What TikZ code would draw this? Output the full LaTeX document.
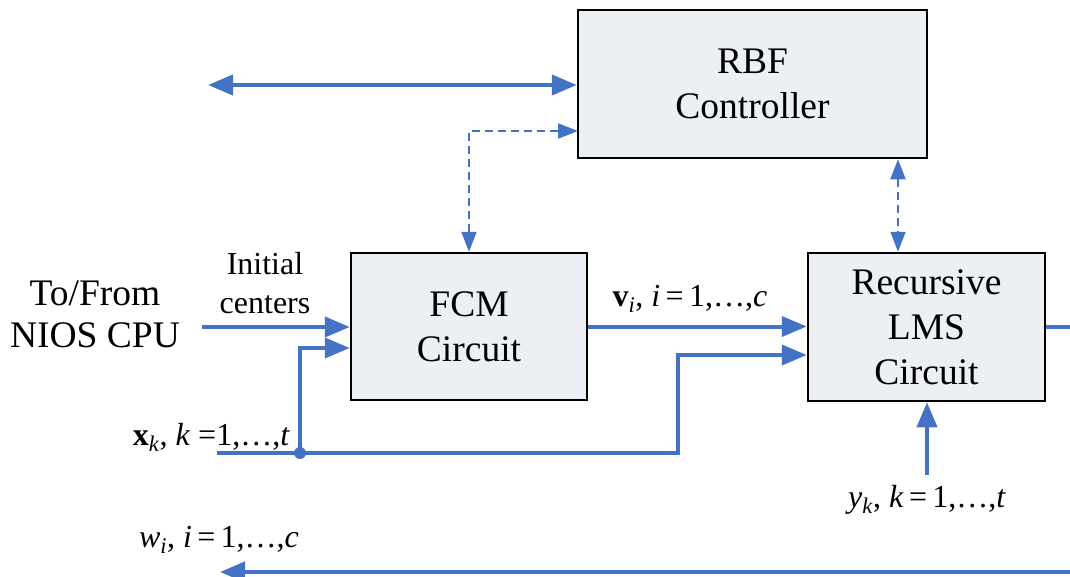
\documentclass[tikz,border=0pt]{standalone}
\usepackage{fontspec}
\setmainfont{Liberation Serif}
\usetikzlibrary{arrows.meta,calc}
\definecolor{lblue}{HTML}{4472C4}
\definecolor{boxfill}{HTML}{ECEFF4}
\begin{document}
\begin{tikzpicture}[x=1pt,y=-1pt,
  blk/.style={draw=black,line width=2.5pt,fill=boxfill,align=center,inner sep=0pt,
    font=\fontsize{37.5}{45}\selectfont},
  sig/.style={draw=lblue,line width=4pt},
  arr/.style={sig,-{Triangle[length=25pt,width=20pt]}},
  dsh/.style={draw=lblue,line width=2pt,dashed,dash pattern=on 8pt off 5pt,
    {Triangle[length=20pt,width=15pt]}-{Triangle[length=20pt,width=15pt]}},
  lbl/.style={inner sep=0pt,anchor=base,font=\fontsize{32}{39}\selectfont},
  big/.style={inner sep=0pt,align=center,font=\fontsize{37.5}{42}\selectfont}]
\useasboundingbox (0,0) rectangle (1070,576);
\node[blk,minimum width=349pt,minimum height=148pt] (rbf) at (752.5,84) {RBF\\Controller};
\node[blk,minimum width=236pt,minimum height=147pt] (fcm) at (469,326.5) {FCM\\Circuit};
\node[blk,minimum width=237pt,minimum height=148pt] (lms) at (926.5,327) {Recursive\\LMS\\Circuit};
% labels
\node[big] (cpu) at (95,314) {To/From\\NIOS CPU};
\node[inner sep=0pt,align=center,font=\fontsize{32}{39}\selectfont] (ini) at (265,283) {Initial\\centers};
\node[lbl] (vl) at (690,306) {\textbf{v}\textsubscript{\textit{i}}, \textit{i}\,=\,1,\ldots,\textit{c}};
\node[lbl,anchor=base east] (xl) at (290,445) {\textbf{x}\textsubscript{\textit{k}}, \textit{k} =1,\ldots,\textit{t}};
\node[lbl] (yl) at (927,507) {\textit{y}\textsubscript{\textit{k}}, \textit{k}\,=\,1,\ldots,\textit{t}};
\node[lbl] (wl) at (219,547) {\textit{w}\textsubscript{\textit{i}}, \textit{i}\,=\,1,\ldots,\textit{c}};
% coordinates
\coordinate (cpuend) at (208,85);
\coordinate (d1) at (578,131);
\coordinate (d2) at (898,0);
\coordinate (ic) at (202,327);
\coordinate (xs) at (217,453);
\coordinate (j) at (300,453);
\coordinate (xb) at (678,453);
\coordinate (lin2) at ($(lms.west)+(0,28)$);
\coordinate (fin2) at ($(fcm.west)+(0,21.5)$);
\coordinate (oe) at (1070,327);
\coordinate (ys) at (927,475);
\coordinate (wb) at (1070,572);
\coordinate (we) at (220,572);
% connectors
\draw[sig,{Triangle[length=25pt,width=20pt]}-{Triangle[length=25pt,width=20pt]}] (cpuend) -- (cpuend -| rbf.west);
\draw[dsh] (fcm.north) |- (d1);
\draw[dsh] (rbf.south -| d2) -- (lms.north -| d2);
\draw[arr] (ic) -- (ic -| fcm.west);
\draw[arr] (xs) -- (xb) |- (lin2);
\draw[arr] (j) |- (fin2);
\fill[lblue] (j) circle (6);
\draw[arr] (fcm.east) -- (fcm.east -| lms.west);
\draw[sig] (lms.east) -- (oe);
\draw[arr] (ys) -- (ys |- lms.south);
\draw[arr] (wb) -- (we);
\end{tikzpicture}
\end{document}
